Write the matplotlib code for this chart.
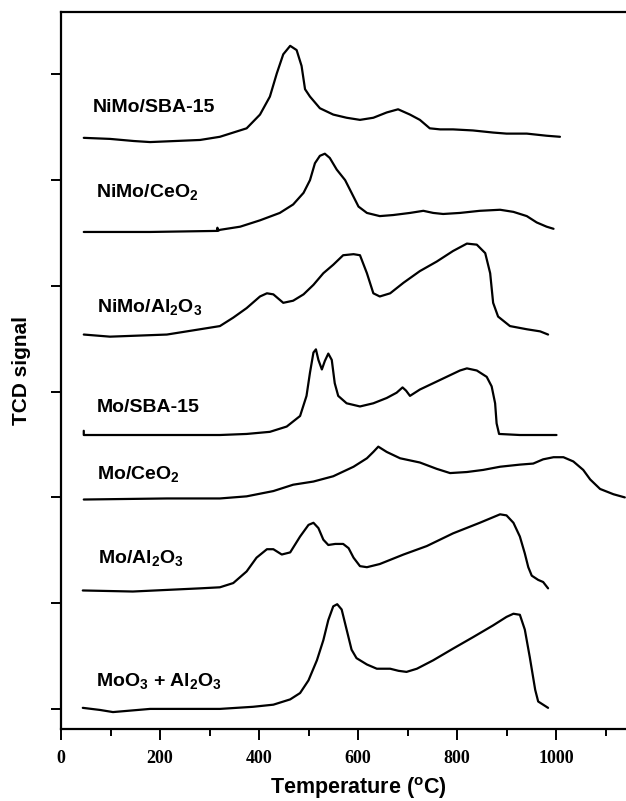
import matplotlib
matplotlib.use("Agg")
import matplotlib.pyplot as plt
from matplotlib.ticker import MultipleLocator

plt.rcParams["font.family"] = ["Liberation Sans", "DejaVu Sans"]
plt.rcParams["mathtext.fontset"] = "custom"
plt.rcParams["mathtext.rm"] = "Liberation Sans:bold"
plt.rcParams["mathtext.bf"] = "Liberation Sans:bold"
plt.rcParams["mathtext.default"] = "rm"

# TPR profiles, temperature (°C) vs TCD signal (a.u., curves stacked)
nimo_sba_t = [46, 99, 147, 180, 281, 321, 348, 375, 402, 422, 436, 449, 463,
              476, 486, 493, 503, 523, 550, 577, 604, 631, 658, 681, 705, 725,
              745, 766, 792, 832, 873, 900, 941, 981, 1008]
nimo_sba_y = [5.40, 5.39, 5.37, 5.36, 5.38, 5.41, 5.45, 5.49, 5.62, 5.79, 6.01,
              6.19, 6.27, 6.23, 6.08, 5.86, 5.79, 5.68, 5.62, 5.59, 5.57, 5.59,
              5.64, 5.67, 5.62, 5.57, 5.49, 5.48, 5.48, 5.47, 5.45, 5.44, 5.44,
              5.42, 5.41]

nimo_ce_t = [46, 180, 315, 316, 317, 321, 362, 402, 442, 469, 490, 503, 513,
             523, 533, 543, 557, 574, 587, 601, 618, 644, 671, 705, 732, 752,
             772, 806, 846, 887, 914, 941, 961, 981, 995]
nimo_ce_y = [4.51, 4.51, 4.52, 4.55, 4.52, 4.53, 4.56, 4.62, 4.69, 4.77, 4.88,
             5.00, 5.16, 5.23, 5.25, 5.21, 5.10, 5.00, 4.88, 4.75, 4.69, 4.66,
             4.67, 4.69, 4.71, 4.69, 4.68, 4.69, 4.71, 4.72, 4.70, 4.66, 4.60,
             4.56, 4.54]

nimo_al_t = [46, 99, 214, 281, 321, 348, 375, 402, 416, 429, 449, 469, 490,
             510, 530, 550, 570, 591, 604, 618, 631, 644, 665, 692, 725, 759,
             792, 820, 840, 857, 867, 873, 883, 907, 941, 968, 984]
nimo_al_y = [3.54, 3.52, 3.54, 3.59, 3.62, 3.70, 3.79, 3.90, 3.93, 3.92, 3.84,
             3.86, 3.92, 4.01, 4.12, 4.20, 4.29, 4.30, 4.29, 4.12, 3.93, 3.90,
             3.93, 4.03, 4.14, 4.23, 4.33, 4.40, 4.39, 4.31, 4.12, 3.84, 3.71,
             3.62, 3.59, 3.57, 3.54]

mo_sba_t = [46, 46, 214, 321, 375, 422, 456, 483, 496, 503, 510, 515, 520,
            527, 533, 540, 547, 553, 560, 577, 604, 631, 658, 678, 690, 697,
            705, 725, 752, 779, 806, 820, 840, 860, 870, 877, 880, 885, 927,
            1001]
mo_sba_y = [2.63, 2.59, 2.59, 2.59, 2.60, 2.62, 2.67, 2.77, 2.96, 3.18, 3.37,
            3.40, 3.30, 3.21, 3.29, 3.36, 3.30, 3.08, 2.96, 2.89, 2.86, 2.89,
            2.94, 2.99, 3.04, 3.01, 2.96, 3.02, 3.08, 3.14, 3.20, 3.22, 3.20,
            3.14, 3.05, 2.89, 2.70, 2.60, 2.59, 2.59]

mo_ce_t = [46, 214, 321, 375, 429, 469, 510, 550, 591, 618, 631, 641, 658,
           685, 725, 759, 786, 820, 853, 887, 927, 954, 974, 995, 1015, 1035,
           1055, 1069, 1089, 1116, 1139]
mo_ce_y = [1.98, 1.99, 1.99, 2.01, 2.06, 2.12, 2.15, 2.20, 2.29, 2.37, 2.43,
           2.48, 2.43, 2.37, 2.33, 2.27, 2.23, 2.24, 2.26, 2.29, 2.31, 2.32,
           2.36, 2.38, 2.38, 2.34, 2.26, 2.17, 2.08, 2.03, 2.00]

mo_al_t = [44, 145, 281, 321, 348, 375, 395, 416, 429, 446, 463, 483, 500,
           510, 520, 530, 540, 554, 570, 581, 591, 604, 618, 644, 692, 739,
           792, 846, 887, 900, 914, 927, 937, 944, 951, 964, 974, 984]
mo_al_y = [1.12, 1.11, 1.14, 1.15, 1.19, 1.30, 1.43, 1.51, 1.51, 1.46, 1.48,
           1.63, 1.74, 1.76, 1.71, 1.60, 1.55, 1.56, 1.56, 1.52, 1.43, 1.35,
           1.34, 1.37, 1.46, 1.54, 1.66, 1.76, 1.84, 1.83, 1.76, 1.63, 1.47,
           1.34, 1.26, 1.22, 1.20, 1.14]

moo3_t = [44, 79, 105, 180, 280, 321, 388, 429, 463, 483, 500, 517, 530, 540,
          550, 558, 567, 577, 587, 597, 618, 638, 665, 682, 698, 719, 752,
          792, 833, 873, 900, 914, 927, 937, 947, 958, 964, 984]
moo3_y = [0.01, -0.01, -0.03, 0.00, 0.00, 0.00, 0.02, 0.04, 0.09, 0.15, 0.27,
          0.46, 0.65, 0.84, 0.97, 0.99, 0.94, 0.75, 0.56, 0.48, 0.42, 0.38,
          0.38, 0.36, 0.35, 0.38, 0.46, 0.57, 0.68, 0.79, 0.87, 0.90, 0.89,
          0.75, 0.49, 0.18, 0.07, 0.01]

labels = ["NiMo/SBA-15", "NiMo/CeO$_2$", "NiMo/Al$_2$O$_3$", "Mo/SBA-15",
          "Mo/CeO$_2$", "Mo/Al$_2$O$_3$", "MoO$_3$ + Al$_2$O$_3$"]
label_x = [65, 71, 73, 73, 73, 75, 71]
label_y = [5.69, 4.89, 3.80, 2.85, 2.22, 1.43, 0.26]
xtick_values = [0, 200, 400, 600, 800, 1000]

curves = [(nimo_sba_t, nimo_sba_y), (nimo_ce_t, nimo_ce_y),
          (nimo_al_t, nimo_al_y), (mo_sba_t, mo_sba_y), (mo_ce_t, mo_ce_y),
          (mo_al_t, mo_al_y), (moo3_t, moo3_y)]

fig = plt.figure(figsize=(6.26, 8.01), dpi=100)
# the original panel is cropped on the right, so the axes run past the edge
ax = fig.add_axes([61 / 626, 72 / 801, 594 / 626, 717 / 801])

for t, y in curves:
    ax.plot(t, y, color="black", lw=1.6, solid_joinstyle="round",
            solid_capstyle="round")

for lab, lx, ly in zip(labels, label_x, label_y):
    ax.text(lx, ly, lab, fontsize=14, fontweight="bold", va="center",
            ha="left")

ax.set_xlim(0, 1200)
ax.set_ylim(-0.19, 6.59)
for s in ["left", "top", "bottom", "right"]:
    ax.spines[s].set_linewidth(1.6)

ax.set_xticks(xtick_values)
ax.xaxis.set_minor_locator(MultipleLocator(100))
ax.yaxis.set_major_locator(MultipleLocator(1))
ax.set_yticklabels([])
ax.tick_params(axis="x", which="major", direction="out", length=8, width=1.4,
               pad=7)
ax.tick_params(axis="x", which="minor", direction="out", length=5, width=1.4)
ax.tick_params(axis="y", direction="out", length=7, width=1.4)
ax.tick_params(top=False, right=False)
for tl in ax.get_xticklabels():
    tl.set_fontfamily("Liberation Serif")
    tl.set_fontweight("bold")
    tl.set_fontsize(13)

ax.set_xlabel("Temperature ($^{o}$C)", fontsize=15.5, fontweight="bold",
              labelpad=6)
ax.set_ylabel("TCD signal", fontsize=15, fontweight="bold", labelpad=11)

fig.savefig("out.png", dpi=100)
